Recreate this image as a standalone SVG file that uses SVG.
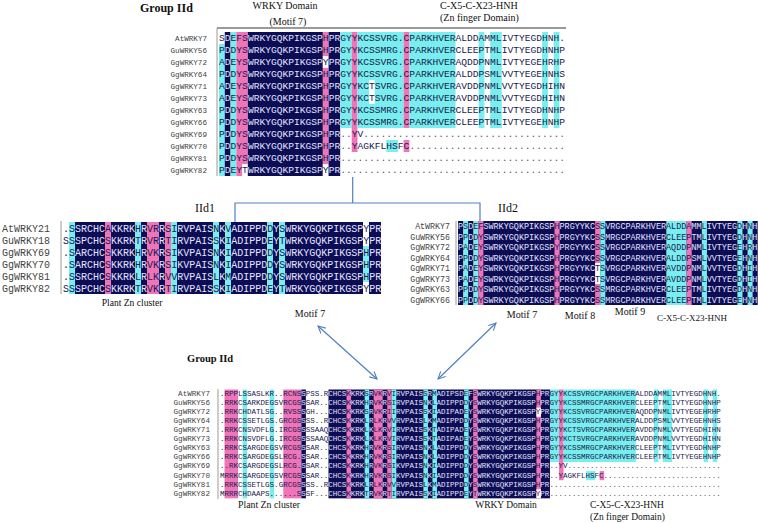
<svg xmlns="http://www.w3.org/2000/svg" width="758" height="523" viewBox="0 0 758 523">
<style>
.s{font-family:"Liberation Mono",monospace;fill:#1a1a4e}
.t1{font-size:9.617px}.t2{font-size:10px}.t3{font-size:8.467px}.t4{font-size:7.533px}
.l{fill:#e4e4ff}.g{fill:#555}
.lab{font-family:"Liberation Mono",monospace;fill:#444}
.cap{font-family:"Liberation Serif",serif;fill:#111}
.b{font-weight:bold}
.nv{fill:#0d0d55}.pk{fill:#ef74b8}.cy{fill:#78eeee}.wh{fill:#fff}
.fr{stroke:#9a9a9a;fill:none}
</style>
<defs>
<marker id="ah" viewBox="0 0 10 10" refX="9" refY="5" markerWidth="9" markerHeight="9" markerUnits="userSpaceOnUse" orient="auto-start-reverse"><path d="M1 1L9 5L1 9" fill="none" stroke="#4f81bd" stroke-width="1.2"/></marker>
</defs>
<rect width="758" height="523" fill="#fff"/>

<g id="panel-top">
<text class="cap b" x="140" y="12" font-size="12">Group IId</text>
<text class="cap" x="285" y="9" font-size="10" text-anchor="middle">WRKY Domain</text>
<text class="cap" x="288" y="25" font-size="10" text-anchor="middle">(Motif 7)</text>
<text class="cap" x="440" y="9" font-size="10">C-X5-C-X23-HNH</text>
<text class="cap" x="440" y="21" font-size="10">(Zn finger Domain)</text>
<rect class="cy" x="219" y="44" width="5.77" height="132"/>
<rect class="nv" x="224.77" y="32" width="5.77" height="144"/>
<rect class="cy" x="230.54" y="32" width="5.77" height="144"/>
<rect class="pk" x="236.31" y="32" width="11.54" height="144"/>
<rect class="wh" x="242.08" y="164" width="5.77" height="12"/>
<rect class="nv" x="247.85" y="32" width="75.01" height="144"/>
<rect class="pk" x="322.86" y="32" width="5.77" height="144"/>
<rect class="wh" x="322.86" y="56" width="5.77" height="12"/>
<rect class="wh" x="322.86" y="164" width="5.77" height="12"/>
<rect class="nv" x="328.63" y="32" width="11.54" height="144"/>
<rect class="cy" x="340.17" y="32" width="11.54" height="96"/>
<rect class="pk" x="351.71" y="32" width="5.77" height="120"/>
<rect class="cy" x="357.48" y="32" width="46.16" height="96"/>
<rect class="wh" x="369.02" y="80" width="5.77" height="24"/>
<rect class="pk" x="403.64" y="32" width="5.77" height="96"/>
<rect class="pk" x="403.64" y="140" width="5.77" height="12"/>
<rect class="cy" x="386.33" y="140" width="11.54" height="12"/>
<rect class="cy" x="409.41" y="32" width="46.16" height="96"/>
<rect class="cy" x="478.65" y="32" width="5.77" height="96"/>
<rect class="cy" x="490.19" y="32" width="11.54" height="96"/>
<rect class="cy" x="542.12" y="32" width="5.77" height="96"/>
<rect class="cy" x="553.66" y="32" width="5.77" height="96"/>
<path class="fr" d="M217 28H566" stroke-width="2"/>
<path class="fr" d="M217 28V176" stroke-width="1"/>
<g class="lab" font-size="7.6" text-anchor="end">
<text x="207" y="41">AtWRKY7</text><text x="207" y="53">GuWRKY56</text><text x="207" y="65">GgWRKY72</text><text x="207" y="77">GgWRKY64</text><text x="207" y="89">GgWRKY71</text><text x="207" y="101">GgWRKY73</text><text x="207" y="113">GgWRKY63</text><text x="207" y="125">GgWRKY66</text><text x="207" y="137">GgWRKY69</text><text x="207" y="149">GgWRKY70</text><text x="207" y="161">GgWRKY81</text><text x="207" y="173">GgWRKY82</text>
</g>
<text class="s t1" x="219" y="41">S<tspan class="l">D</tspan>EFS<tspan class="l">WRKYGQKPIKGSP</tspan>H<tspan class="l">PR</tspan>GYYKCSSVRG.CPARKHVERALDDAMMLIVTYEGDHNH.</text>
<text class="s t1" x="219" y="53">P<tspan class="l">D</tspan>DYS<tspan class="l">WRKYGQKPIKGSP</tspan>H<tspan class="l">PR</tspan>GYYKCSSMRG.CPARKHVERCLEEPTMLIVTYEGDHNHP</text>
<text class="s t1" x="219" y="65">A<tspan class="l">D</tspan>EYS<tspan class="l">WRKYGQKPIKGSP</tspan>Y<tspan class="l">PR</tspan>GYYKCSSVRG.CPARKHVERAQDDPNMLIVTYEGEHRHP</text>
<text class="s t1" x="219" y="77">P<tspan class="l">D</tspan>DYS<tspan class="l">WRKYGQKPIKGSP</tspan>H<tspan class="l">PR</tspan>GYYKCSSVRG.CPARKHVERALDDPSMLVVTYEGEHNHS</text>
<text class="s t1" x="219" y="89">A<tspan class="l">D</tspan>EYS<tspan class="l">WRKYGQKPIKGSP</tspan>H<tspan class="l">PR</tspan>GYYKCTSVRG.CPARKHVERAVDDPNMLVVTYEGDHIHN</text>
<text class="s t1" x="219" y="101">A<tspan class="l">D</tspan>EYS<tspan class="l">WRKYGQKPIKGSP</tspan>H<tspan class="l">PR</tspan>GYYKCTSVRG.CPARKHVERAVDDPNMLVVTYEGDHIHN</text>
<text class="s t1" x="219" y="113">P<tspan class="l">D</tspan>DYS<tspan class="l">WRKYGQKPIKGSP</tspan>H<tspan class="l">PR</tspan>GYYKCSSMRG.CPARKHVERCLEEPTMLIVTYEGDHNHP</text>
<text class="s t1" x="219" y="125">P<tspan class="l">D</tspan>DYS<tspan class="l">WRKYGQKPIKGSP</tspan>H<tspan class="l">PR</tspan>GYYKCSSMRG.CPARKHVERCLEEPTMLIVTYEGEHNHP</text>
<text class="s t1" x="219" y="137">P<tspan class="l">D</tspan>DYS<tspan class="l">WRKYGQKPIKGSP</tspan>H<tspan class="l">PR</tspan><tspan class="g">..</tspan>YV<tspan class="g">...................................</tspan></text>
<text class="s t1" x="219" y="149">P<tspan class="l">D</tspan>DYS<tspan class="l">WRKYGQKPIKGSP</tspan>H<tspan class="l">PR</tspan><tspan class="g">..</tspan>YAGKFLHSFC<tspan class="g">...........................</tspan></text>
<text class="s t1" x="219" y="161">P<tspan class="l">D</tspan>DYS<tspan class="l">WRKYGQKPIKGSP</tspan>H<tspan class="l">PR</tspan><tspan class="g">.......................................</tspan></text>
<text class="s t1" x="219" y="173">P<tspan class="l">D</tspan>EYT<tspan class="l">WRKYGQKPIKGSP</tspan>Y<tspan class="l">PR</tspan><tspan class="g">.......................................</tspan></text>
</g>

<g id="panel-IId1">
<text class="cap" x="205" y="212" font-size="12" text-anchor="middle">IId1</text>
<rect class="cy" x="69" y="222" width="6" height="72"/>
<rect class="nv" x="75" y="222" width="306" height="72"/>
<rect class="pk" x="105" y="222" width="6" height="72"/>
<rect class="cy" x="135" y="222" width="6" height="72"/>
<rect class="pk" x="147" y="222" width="12" height="72"/>
<rect class="pk" x="165" y="222" width="6" height="72"/>
<rect class="cy" x="171" y="222" width="6" height="72"/>
<rect class="cy" x="213" y="222" width="6" height="72"/>
<rect class="cy" x="225" y="222" width="6" height="72"/>
<rect class="cy" x="267" y="222" width="6" height="72"/>
<rect class="cy" x="279" y="222" width="6" height="72"/>
<rect class="wh" x="363" y="222" width="6" height="24"/>
<rect class="cy" x="363" y="246" width="6" height="36"/>
<rect class="wh" x="363" y="282" width="6" height="12"/>
<path class="fr" d="M61 221V294" stroke-width="1"/>
<g class="lab" font-size="10">
<text x="2" y="231.5">AtWRKY21</text><text x="2" y="243.5">GuWRKY18</text><text x="2" y="255.5">GgWRKY69</text><text x="2" y="267.5">GgWRKY70</text><text x="2" y="279.5">GgWRKY81</text><text x="2" y="291.5">GgWRKY82</text>
</g>
<text class="s t2" x="63" y="231.5">.S<tspan class="l">SRCHC</tspan>A<tspan class="l">KKRK</tspan>H<tspan class="l">R</tspan>VR<tspan class="l">R</tspan>SI<tspan class="l">RVPAIS</tspan>N<tspan class="l">K</tspan>V<tspan class="l">ADIPPD</tspan>D<tspan class="l">Y</tspan>S<tspan class="l">WRKYGQKPIKGSP</tspan>Y<tspan class="l">PR</tspan></text>
<text class="s t2" x="63" y="243.5">SS<tspan class="l">SPCHC</tspan>S<tspan class="l">KKRK</tspan>T<tspan class="l">R</tspan>VR<tspan class="l">R</tspan>TI<tspan class="l">RVPAIS</tspan>S<tspan class="l">K</tspan>I<tspan class="l">ADIPPD</tspan>E<tspan class="l">Y</tspan>T<tspan class="l">WRKYGQKPIKGSP</tspan>Y<tspan class="l">PR</tspan></text>
<text class="s t2" x="63" y="255.5">.S<tspan class="l">ARCHC</tspan>S<tspan class="l">KKRK</tspan>H<tspan class="l">R</tspan>VK<tspan class="l">R</tspan>SI<tspan class="l">KVPAIS</tspan>N<tspan class="l">K</tspan>I<tspan class="l">ADIPPD</tspan>D<tspan class="l">Y</tspan>S<tspan class="l">WRKYGQKPIKGSP</tspan>H<tspan class="l">PR</tspan></text>
<text class="s t2" x="63" y="267.5">.S<tspan class="l">ARCHC</tspan>S<tspan class="l">KKRK</tspan>H<tspan class="l">R</tspan>VK<tspan class="l">R</tspan>SI<tspan class="l">KVPAIS</tspan>N<tspan class="l">K</tspan>I<tspan class="l">ADIPPD</tspan>D<tspan class="l">Y</tspan>S<tspan class="l">WRKYGQKPIKGSP</tspan>H<tspan class="l">PR</tspan></text>
<text class="s t2" x="63" y="279.5">.S<tspan class="l">SRCHC</tspan>S<tspan class="l">KKRK</tspan>L<tspan class="l">R</tspan>LK<tspan class="l">R</tspan>VV<tspan class="l">RVPAIS</tspan>L<tspan class="l">K</tspan>M<tspan class="l">ADIPPD</tspan>D<tspan class="l">Y</tspan>S<tspan class="l">WRKYGQKPIKGSP</tspan>H<tspan class="l">PR</tspan></text>
<text class="s t2" x="63" y="291.5">SS<tspan class="l">SPCHC</tspan>S<tspan class="l">KKRK</tspan>T<tspan class="l">R</tspan>VK<tspan class="l">R</tspan>TI<tspan class="l">RVPAIS</tspan>S<tspan class="l">K</tspan>I<tspan class="l">ADIPPD</tspan>E<tspan class="l">Y</tspan>T<tspan class="l">WRKYGQKPIKGSP</tspan>Y<tspan class="l">PR</tspan></text>
<text class="cap" x="132" y="306" font-size="9.6" text-anchor="middle">Plant Zn cluster</text>
<text class="cap" x="310" y="317" font-size="10" text-anchor="middle">Motif 7</text>
</g>

<g id="panel-IId2">
<text class="cap" x="508" y="212" font-size="12" text-anchor="middle">IId2</text>
<rect class="nv" x="458" y="221" width="299.72" height="84"/>
<rect class="cy" x="463.08" y="221" width="5.08" height="84"/>
<rect class="cy" x="473.24" y="221" width="5.08" height="84"/>
<rect class="pk" x="478.32" y="221" width="5.08" height="84"/>
<rect class="pk" x="554.52" y="221" width="5.08" height="84"/>
<rect class="pk" x="595.16" y="221" width="5.08" height="84"/>
<rect class="wh" x="595.16" y="263" width="5.08" height="21"/>
<rect class="cy" x="600.24" y="221" width="5.08" height="84"/>
<rect class="cy" x="666.28" y="221" width="20.32" height="84"/>
<rect class="pk" x="686.6" y="221" width="5.08" height="84"/>
<rect class="cy" x="701.84" y="221" width="5.08" height="84"/>
<rect class="cy" x="737.4" y="221" width="5.08" height="84"/>
<rect class="cy" x="747.56" y="221" width="5.08" height="84"/>
<path class="fr" d="M456 221V305" stroke-width="1"/>
<g class="lab" font-size="8.3" text-anchor="end">
<text x="450" y="229.2">AtWRKY7</text><text x="450" y="239.7">GuWRKY56</text><text x="450" y="250.2">GgWRKY72</text><text x="450" y="260.7">GgWRKY64</text><text x="450" y="271.2">GgWRKY71</text><text x="450" y="281.7">GgWRKY73</text><text x="450" y="292.2">GgWRKY63</text><text x="450" y="302.7">GgWRKY66</text>
</g>
<text class="s t3" x="458" y="229.2"><tspan class="l">P</tspan>S<tspan class="l">D</tspan>EF<tspan class="l">SWRKYGQKPIKGSP</tspan>H<tspan class="l">PRGYYKC</tspan>SS<tspan class="l">VRGCPARKHVER</tspan>ALDDA<tspan class="l">MM</tspan>L<tspan class="l">IVTYEG</tspan>D<tspan class="l">H</tspan>N<tspan class="l">H</tspan></text>
<text class="s t3" x="458" y="239.7"><tspan class="l">P</tspan>P<tspan class="l">D</tspan>DY<tspan class="l">SWRKYGQKPIKGSP</tspan>H<tspan class="l">PRGYYKC</tspan>SS<tspan class="l">MRGCPARKHVER</tspan>CLEEP<tspan class="l">TM</tspan>L<tspan class="l">IVTYEG</tspan>D<tspan class="l">H</tspan>N<tspan class="l">H</tspan></text>
<text class="s t3" x="458" y="250.2"><tspan class="l">P</tspan>A<tspan class="l">D</tspan>EY<tspan class="l">SWRKYGQKPIKGSP</tspan>Y<tspan class="l">PRGYYKC</tspan>SS<tspan class="l">VRGCPARKHVER</tspan>AQDDP<tspan class="l">NM</tspan>L<tspan class="l">IVTYEG</tspan>E<tspan class="l">H</tspan>R<tspan class="l">H</tspan></text>
<text class="s t3" x="458" y="260.7"><tspan class="l">P</tspan>P<tspan class="l">D</tspan>DY<tspan class="l">SWRKYGQKPIKGSP</tspan>H<tspan class="l">PRGYYKC</tspan>SS<tspan class="l">VRGCPARKHVER</tspan>ALDDP<tspan class="l">SM</tspan>L<tspan class="l">VVTYEG</tspan>E<tspan class="l">H</tspan>N<tspan class="l">H</tspan></text>
<text class="s t3" x="458" y="271.2"><tspan class="l">P</tspan>A<tspan class="l">D</tspan>EY<tspan class="l">SWRKYGQKPIKGSP</tspan>H<tspan class="l">PRGYYKC</tspan>TS<tspan class="l">VRGCPARKHVER</tspan>AVDDP<tspan class="l">NM</tspan>L<tspan class="l">VVTYEG</tspan>D<tspan class="l">H</tspan>I<tspan class="l">H</tspan></text>
<text class="s t3" x="458" y="281.7"><tspan class="l">P</tspan>A<tspan class="l">D</tspan>EY<tspan class="l">SWRKYGQKPIKGSP</tspan>H<tspan class="l">PRGYYKC</tspan>TS<tspan class="l">VRGCPARKHVER</tspan>AVDDP<tspan class="l">NM</tspan>L<tspan class="l">VVTYEG</tspan>D<tspan class="l">H</tspan>I<tspan class="l">H</tspan></text>
<text class="s t3" x="458" y="292.2"><tspan class="l">P</tspan>P<tspan class="l">D</tspan>DY<tspan class="l">SWRKYGQKPIKGSP</tspan>H<tspan class="l">PRGYYKC</tspan>SS<tspan class="l">MRGCPARKHVER</tspan>CLEEP<tspan class="l">TM</tspan>L<tspan class="l">IVTYEG</tspan>D<tspan class="l">H</tspan>N<tspan class="l">H</tspan></text>
<text class="s t3" x="458" y="302.7"><tspan class="l">P</tspan>P<tspan class="l">D</tspan>DY<tspan class="l">SWRKYGQKPIKGSP</tspan>H<tspan class="l">PRGYYKC</tspan>SS<tspan class="l">MRGCPARKHVER</tspan>CLEEP<tspan class="l">TM</tspan>L<tspan class="l">IVTYEG</tspan>E<tspan class="l">H</tspan>N<tspan class="l">H</tspan></text>
<text class="cap" x="522" y="318" font-size="10" text-anchor="middle">Motif 7</text>
<text class="cap" x="580" y="319" font-size="10" text-anchor="middle">Motif 8</text>
<text class="cap" x="630" y="315" font-size="10" text-anchor="middle">Motif 9</text>
<text class="cap" x="657" y="321" font-size="9">C-X5-C-X23-HNH</text>
</g>

<g id="panel-bottom">
<text class="cap b" x="187" y="362" font-size="10.5">Group IId</text>
<rect class="pk" x="224.52" y="389.5" width="13.56" height="108.84"/>
<rect class="cy" x="242.6" y="389.5" width="4.52" height="108.84"/>
<rect class="cy" x="269.72" y="389.5" width="4.52" height="108.84"/>
<rect class="pk" x="283.28" y="389.5" width="18.08" height="108.84"/>
<rect class="nv" x="301.36" y="389.5" width="4.52" height="108.84"/>
<rect class="nv" x="328.48" y="389.5" width="221.48" height="108.84"/>
<rect class="pk" x="346.56" y="389.5" width="4.52" height="108.84"/>
<rect class="cy" x="364.64" y="389.5" width="4.52" height="108.84"/>
<rect class="pk" x="373.68" y="389.5" width="9.04" height="108.84"/>
<rect class="pk" x="387.24" y="389.5" width="4.52" height="108.84"/>
<rect class="cy" x="391.76" y="389.5" width="4.52" height="108.84"/>
<rect class="cy" x="423.4" y="389.5" width="4.52" height="108.84"/>
<rect class="cy" x="432.44" y="389.5" width="4.52" height="108.84"/>
<rect class="cy" x="464.08" y="389.5" width="4.52" height="108.84"/>
<rect class="pk" x="473.12" y="389.5" width="4.52" height="108.84"/>
<rect class="pk" x="536.4" y="389.5" width="4.52" height="108.84"/>
<rect class="wh" x="536.4" y="407.64" width="4.52" height="9.07"/>
<rect class="wh" x="536.4" y="489.27" width="4.52" height="9.07"/>
<rect class="cy" x="549.96" y="389.5" width="9.04" height="72.56"/>
<rect class="pk" x="559" y="389.5" width="4.52" height="90.7"/>
<rect class="cy" x="563.52" y="389.5" width="72.32" height="72.56"/>
<rect class="cy" x="653.92" y="389.5" width="4.52" height="72.56"/>
<rect class="cy" x="662.96" y="389.5" width="9.04" height="72.56"/>
<rect class="cy" x="703.64" y="389.5" width="4.52" height="72.56"/>
<rect class="cy" x="712.68" y="389.5" width="4.52" height="72.56"/>
<rect class="cy" x="586.12" y="471.13" width="9.04" height="9.07"/>
<rect class="pk" x="599.68" y="471.13" width="4.52" height="9.07"/>
<path class="fr" d="M218 389V499" stroke-width="1"/>
<g class="lab" font-size="7.6" text-anchor="end">
<text x="210" y="395.9">AtWRKY7</text><text x="210" y="404.97">GuWRKY56</text><text x="210" y="414.04">GgWRKY72</text><text x="210" y="423.11">GgWRKY64</text><text x="210" y="432.18">GgWRKY71</text><text x="210" y="441.25">GgWRKY73</text><text x="210" y="450.32">GgWRKY63</text><text x="210" y="459.39">GgWRKY66</text><text x="210" y="468.46">GgWRKY69</text><text x="210" y="477.53">GgWRKY70</text><text x="210" y="486.6">GgWRKY81</text><text x="210" y="495.67">GgWRKY82</text>
</g>
<text class="s t4" x="220" y="395.9">.RPPLSSASLKR..RCNS<tspan class="l">S</tspan>PSS.R<tspan class="l">CHCS</tspan>K<tspan class="l">KRK</tspan>S<tspan class="l">R</tspan>VK<tspan class="l">R</tspan>VI<tspan class="l">RVPAIS</tspan>S<tspan class="l">R</tspan>M<tspan class="l">ADIPSD</tspan>E<tspan class="l">F</tspan>S<tspan class="l">WRKYGQKPIKGSP</tspan>H<tspan class="l">PR</tspan>GYYKCSSVRGCPARKHVERALDDAMMLIVTYEGDHNH.</text>
<text class="s t4" x="220" y="404.97">.RRKCSARKDEGSVRCGS<tspan class="l">S</tspan>SAR..<tspan class="l">CHCS</tspan>K<tspan class="l">KRK</tspan>H<tspan class="l">R</tspan>VK<tspan class="l">R</tspan>SI<tspan class="l">RVPAIS</tspan>N<tspan class="l">K</tspan>L<tspan class="l">ADIPPD</tspan>D<tspan class="l">Y</tspan>S<tspan class="l">WRKYGQKPIKGSP</tspan>H<tspan class="l">PR</tspan>GYYKCSSMRGCPARKHVERCLEEPTMLIVTYEGDHNHP</text>
<text class="s t4" x="220" y="414.04">.RRKCHDATLSG..RVSS<tspan class="l">S</tspan>GH...<tspan class="l">CHCS</tspan>K<tspan class="l">KRK</tspan>S<tspan class="l">R</tspan>VK<tspan class="l">R</tspan>II<tspan class="l">RVPAIS</tspan>S<tspan class="l">K</tspan>I<tspan class="l">ADIPAD</tspan>E<tspan class="l">Y</tspan>S<tspan class="l">WRKYGQKPIKGSP</tspan>Y<tspan class="l">PR</tspan>GYYKCSSVRGCPARKHVERAQDDPNMLIVTYEGEHRHP</text>
<text class="s t4" x="220" y="423.11">.RRKCSSETLGS.GRCGS<tspan class="l">S</tspan>SS..R<tspan class="l">CHCS</tspan>K<tspan class="l">KRK</tspan>L<tspan class="l">R</tspan>LK<tspan class="l">R</tspan>VV<tspan class="l">RVPAIS</tspan>L<tspan class="l">K</tspan>M<tspan class="l">ADIPPD</tspan>D<tspan class="l">Y</tspan>S<tspan class="l">WRKYGQKPIKGSP</tspan>H<tspan class="l">PR</tspan>GYYKCSSVRGCPARKHVERALDDPSMLVVTYEGEHNHS</text>
<text class="s t4" x="220" y="432.18">.RRKCNSVDFLG.IRCGS<tspan class="l">S</tspan>SSAAQ<tspan class="l">CHCS</tspan>K<tspan class="l">KRK</tspan>L<tspan class="l">K</tspan>LK<tspan class="l">R</tspan>VI<tspan class="l">RVPAIS</tspan>S<tspan class="l">K</tspan>T<tspan class="l">ADIPAD</tspan>E<tspan class="l">Y</tspan>S<tspan class="l">WRKYGQKPIKGSP</tspan>H<tspan class="l">PR</tspan>GYYKCTSVRGCPARKHVERAVDDPNMLVVTYEGDHIHN</text>
<text class="s t4" x="220" y="441.25">.RRKCNSVDFLG.IRCGS<tspan class="l">S</tspan>SSAAQ<tspan class="l">CHCS</tspan>K<tspan class="l">KRK</tspan>L<tspan class="l">K</tspan>LK<tspan class="l">R</tspan>VI<tspan class="l">RVPAIS</tspan>S<tspan class="l">K</tspan>T<tspan class="l">ADIPAD</tspan>E<tspan class="l">Y</tspan>S<tspan class="l">WRKYGQKPIKGSP</tspan>H<tspan class="l">PR</tspan>GYYKCTSVRGCPARKHVERAVDDPNMLVVTYEGDHIHN</text>
<text class="s t4" x="220" y="450.32">.RRKCSARGDEGSVRCGS<tspan class="l">S</tspan>SAR..<tspan class="l">CHCS</tspan>K<tspan class="l">KRK</tspan>H<tspan class="l">R</tspan>VK<tspan class="l">R</tspan>SI<tspan class="l">RVPAIS</tspan>N<tspan class="l">K</tspan>L<tspan class="l">ADIPPD</tspan>D<tspan class="l">Y</tspan>S<tspan class="l">WRKYGQKPIKGSP</tspan>H<tspan class="l">PR</tspan>GYYKCSSMRGCPARKHVERCLEEPTMLIVTYEGDHNHP</text>
<text class="s t4" x="220" y="459.39">.RRKCSARGDEGSLRCG.<tspan class="l">S</tspan>SAR..<tspan class="l">CHCS</tspan>K<tspan class="l">KRK</tspan>H<tspan class="l">R</tspan>VK<tspan class="l">R</tspan>SI<tspan class="l">RVPAIS</tspan>N<tspan class="l">K</tspan>L<tspan class="l">ADIPPD</tspan>D<tspan class="l">Y</tspan>S<tspan class="l">WRKYGQKPIKGSP</tspan>H<tspan class="l">PR</tspan>GYYKCSSMRGCPARKHVERCLEEPTMLIVTYEGEHNHP</text>
<text class="s t4" x="220" y="468.46">..RKCSARGDEGSLRCG.<tspan class="l">S</tspan>SAR..<tspan class="l">CHCS</tspan>K<tspan class="l">KRK</tspan>H<tspan class="l">R</tspan>VK<tspan class="l">R</tspan>SI<tspan class="l">KVPAIS</tspan>N<tspan class="l">K</tspan>I<tspan class="l">ADIPPD</tspan>D<tspan class="l">Y</tspan>S<tspan class="l">WRKYGQKPIKGSP</tspan>H<tspan class="l">PR</tspan><tspan class="g">..</tspan>YV<tspan class="g">..................................</tspan></text>
<text class="s t4" x="220" y="477.53">MRRKCSARGDEGSVRCGS<tspan class="l">S</tspan>SAR..<tspan class="l">CHCS</tspan>K<tspan class="l">KRK</tspan>H<tspan class="l">R</tspan>VK<tspan class="l">R</tspan>SI<tspan class="l">KVPAIS</tspan>N<tspan class="l">K</tspan>I<tspan class="l">ADIPPD</tspan>D<tspan class="l">Y</tspan>S<tspan class="l">WRKYGQKPIKGSP</tspan>H<tspan class="l">PR</tspan><tspan class="g">..</tspan>YAGKFLHSFC<tspan class="g">..........................</tspan></text>
<text class="s t4" x="220" y="486.6">.RRKCSSETLGS.GRCGS<tspan class="l">S</tspan>SS..R<tspan class="l">CHCS</tspan>K<tspan class="l">KRK</tspan>L<tspan class="l">R</tspan>LK<tspan class="l">R</tspan>VV<tspan class="l">RVPAIS</tspan>L<tspan class="l">K</tspan>M<tspan class="l">ADIPPD</tspan>D<tspan class="l">Y</tspan>S<tspan class="l">WRKYGQKPIKGSP</tspan>H<tspan class="l">PR</tspan><tspan class="g">......................................</tspan></text>
<text class="s t4" x="220" y="495.67">MRRRCHDAAPS......S<tspan class="l">S</tspan>SF...<tspan class="l">CHCS</tspan>K<tspan class="l">KRK</tspan>T<tspan class="l">R</tspan>VK<tspan class="l">R</tspan>TI<tspan class="l">RVPAIS</tspan>S<tspan class="l">K</tspan>I<tspan class="l">ADIPPD</tspan>E<tspan class="l">Y</tspan>T<tspan class="l">WRKYGQKPIKGSP</tspan>Y<tspan class="l">PR</tspan><tspan class="g">......................................</tspan></text>
<text class="cap" x="269" y="508" font-size="9.8" text-anchor="middle">Plant Zn cluster</text>
<text class="cap" x="506" y="508" font-size="9.5" text-anchor="middle">WRKY Domain</text>
<text class="cap" x="590" y="508" font-size="9.5">C-X5-C-X23-HNH</text>
<text class="cap" x="590" y="520" font-size="9.5">(Zn finger Domain)</text>
</g>

<g id="connectors" stroke="#4f81bd" fill="none" stroke-width="1.2">
<path d="M352.7 177V203M235 222V203H480V221"/>
<line x1="318" y1="326" x2="377" y2="379" marker-start="url(#ah)" marker-end="url(#ah)"/>
<line x1="496" y1="323" x2="438" y2="379" marker-start="url(#ah)" marker-end="url(#ah)"/>
</g>
</svg>
